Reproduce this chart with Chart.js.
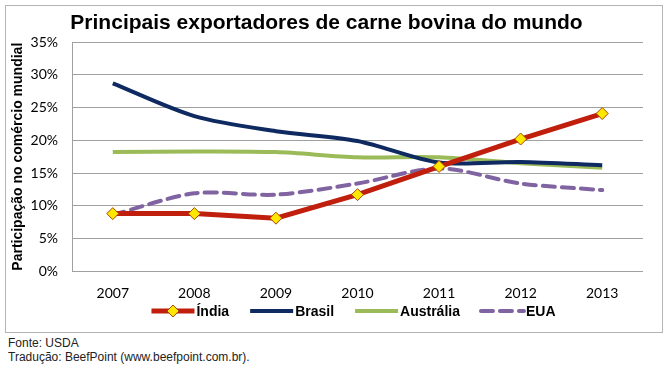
<!DOCTYPE html>
<html>
<head>
  <title>Principais exportadores de carne bovina do mundo</title>
  <script src="https://cdn.jsdelivr.net/npm/chart.js"></script>
  <style>
    body { margin: 0; background: #fff; width: 669px; height: 370px; position: relative; overflow: hidden; }
    #box { position: absolute; left: 5px; top: 5px; width: 658px; height: 328px; box-sizing: border-box; border: 1px solid #b4b4b4; }
    #box canvas { display: block; }
    .note { position: absolute; left: 8px; font: 12px "Liberation Sans", Arial, sans-serif; color: #222; }
  </style>
</head>
<body>
  <div id="box"><canvas id="exportChart" width="656" height="326"></canvas></div>
  <div class="note" style="top:336px">Fonte: USDA</div>
  <div class="note" style="top:350px">Tradução: BeefPoint (www.beefpoint.com.br).</div>

  <script>
    const years = ['2007', '2008', '2009', '2010', '2011', '2012', '2013'];
    const india = [8.8, 8.8, 8.1, 11.7, 16.0, 20.2, 24.1];
    const brasil = [28.7, 23.7, 21.4, 19.9, 16.6, 16.7, 16.2];
    const australia = [18.2, 18.3, 18.2, 17.4, 17.4, 16.5, 15.8];
    const eua = [8.6, 11.9, 11.7, 13.4, 15.7, 13.4, 12.4];
    const yTicks = [0, 5, 10, 15, 20, 25, 30, 35];

    // legend drawn by hand so India gets its diamond inside the line sample
    const sampleLegend = {
      id: 'sampleLegend',
      afterDraw(chart) {
        const ctx = chart.ctx;
        const area = chart.chartArea;
        const lineLen = 43, gapText = 2, gapItem = 21;
        ctx.save();
        ctx.font = 'bold 14px "Liberation Sans", Arial, sans-serif';
        ctx.textBaseline = 'middle';
        const items = chart.data.datasets.map(ds => ({ ds, w: ctx.measureText(ds.label).width }));
        let total = items.reduce((s, it) => s + lineLen + gapText + it.w, 0) + gapItem * (items.length - 1);
        let x = (area.left + area.right) / 2 - 4 - total / 2;
        const y = 305;
        items.forEach(({ ds, w }) => {
          ctx.beginPath();
          ctx.strokeStyle = ds.borderColor;
          ctx.lineWidth = ds.borderWidth;
          ctx.setLineDash(ds.borderDash || []);
          ctx.lineCap = ds.borderDash ? 'round' : 'butt';
          ctx.moveTo(x, y);
          ctx.lineTo(x + lineLen, y);
          ctx.stroke();
          ctx.setLineDash([]);
          if (ds.pointRadius) {
            const cx = x + lineLen / 2, r = ds.pointRadius;
            ctx.beginPath();
            ctx.moveTo(cx, y - r); ctx.lineTo(cx + r, y); ctx.lineTo(cx, y + r); ctx.lineTo(cx - r, y);
            ctx.closePath();
            ctx.fillStyle = ds.pointBackgroundColor;
            ctx.fill();
            ctx.lineWidth = 1;
            ctx.strokeStyle = ds.pointBorderColor;
            ctx.stroke();
          }
          ctx.fillStyle = '#000';
          ctx.fillText(ds.label, x + lineLen + gapText, y + 1);
          x += lineLen + gapText + w + gapItem;
        });
        ctx.restore();
      }
    };

    const ctx = document.getElementById('exportChart').getContext('2d');
    new Chart(ctx, {
      type: 'line',
      data: {
        labels: years,
        datasets: [
          {
            label: 'Índia', data: india, borderColor: '#c01f0e', borderWidth: 5, tension: 0,
            pointStyle: 'rectRot', pointRadius: 6, pointHoverRadius: 6,
            pointBackgroundColor: '#ffe800', pointBorderColor: '#a84400', pointBorderWidth: 1, order: 0
          },
          {
            label: 'Brasil', data: brasil, borderColor: '#0e2a60', borderWidth: 4, tension: 0.3,
            pointRadius: 0, order: 1
          },
          {
            label: 'Austrália', data: australia, borderColor: '#9bbb59', borderWidth: 4, tension: 0.3,
            pointRadius: 0, order: 2
          },
          {
            label: 'EUA', data: eua, borderColor: '#8064a2', borderWidth: 4, tension: 0.3,
            borderDash: [12, 7], borderCapStyle: 'round', pointRadius: 0, order: 3
          }
        ]
      },
      options: {
        responsive: false,
        animation: false,
        layout: { padding: { left: 4, right: 19, top: 0, bottom: 24 } },
        plugins: {
          legend: { display: false },
          tooltip: { enabled: false },
          title: {
            display: true,
            text: 'Principais exportadores de carne bovina do mundo',
            color: '#000',
            font: { family: '"Liberation Sans", Arial, sans-serif', size: 21, weight: 'bold' },
            padding: { top: 5, bottom: 6 }
          }
        },
        scales: {
          x: {
            offset: true,
            grid: { display: false },
            border: { display: false },
            ticks: { color: '#000', padding: 6, font: { family: 'Lato, sans-serif', size: 14 } }
          },
          y: {
            min: 0,
            max: 35,
            afterFit(scale) { scale.width = 62; },
            afterBuildTicks(scale) { scale.ticks = yTicks.map(v => ({ value: v })); },
            grid: { color: '#a0a0a0', drawTicks: false },
            border: { display: true, color: '#a0a0a0' },
            ticks: {
              color: '#000', padding: 14,
              font: { family: 'Lato, sans-serif', size: 14 },
              callback: v => v + '%'
            },
            title: {
              display: true,
              text: 'Participação no comércio mundial',
              color: '#000',
              padding: { top: 0, bottom: 0 },
              font: { family: '"Liberation Sans", Arial, sans-serif', size: 14, weight: 'bold' }
            }
          }
        }
      },
      plugins: [sampleLegend]
    });
  </script>
</body>
</html>
